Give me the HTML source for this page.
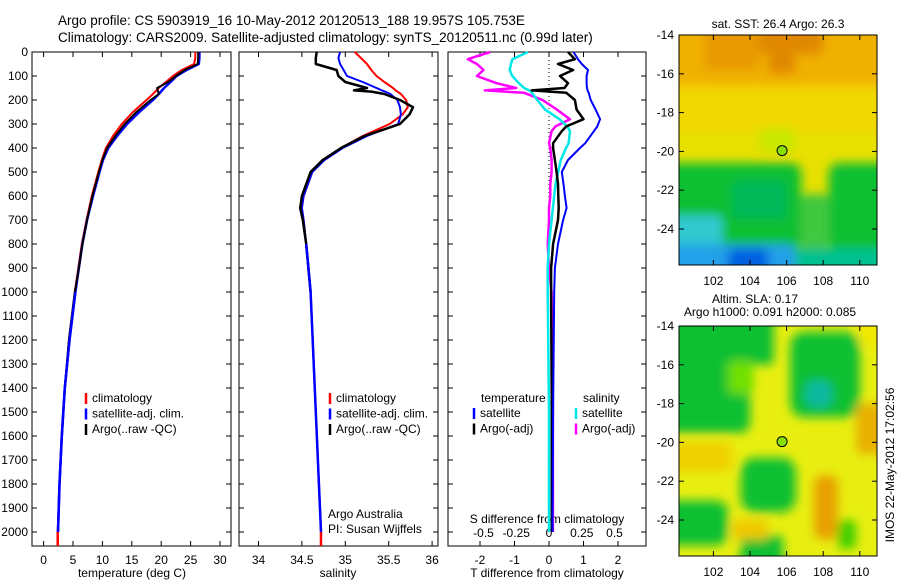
<!DOCTYPE html>
<html><head><meta charset="utf-8"><style>
body{margin:0;background:#fff;}
svg{display:block;font-family:"Liberation Sans",sans-serif;}
</style></head><body>
<svg id="c" width="900" height="580" xmlns="http://www.w3.org/2000/svg">
<defs>
<filter id="bl1" x="-50%" y="-50%" width="200%" height="200%"><feGaussianBlur stdDeviation="5"/></filter>
<clipPath id="cm1"><rect x="679" y="35" width="198" height="230"/></clipPath>
<clipPath id="cm2"><rect x="679" y="326" width="198" height="230"/></clipPath>
</defs>
<text x="58" y="25" font-size="13.5">Argo profile: CS 5903919_16 10-May-2012 20120513_188 19.957S 105.753E</text>
<text x="58" y="42" font-size="13.5">Climatology: CARS2009. Satellite-adjusted climatology: synTS_20120511.nc (0.99d later)</text>
<g id="g"></g>
</svg>
<script>
// ---- data ----
const depths = [0,25,50,75,100,125,150,175,200,250,300,350,400,450,500,600,700,800,900,1000,1200,1400,1600,1800,2000];
const tempClim = [25.8,25.8,25.6,23.5,22.0,20.8,19.6,18.6,17.5,15.2,13.3,11.8,10.6,9.9,9.3,8.2,7.3,6.5,5.9,5.3,4.3,3.6,3.1,2.7,2.4];
const tempSat  = [26.5,26.5,26.4,24.3,22.6,21.6,20.5,19.6,18.6,16.3,14.2,12.5,11.0,10.1,9.5,8.4,7.4,6.6,6.0,5.4,4.4,3.6,3.1,2.7,2.45];
const tempArgo = [26.3,26.3,26.2,24.0,22.5,21.2,19.3,19.6,18.2,15.8,13.8,12.2,10.8,10.0,9.4,8.3,7.4,6.6,6.0,5.3,4.3,3.6,3.1,2.7,2.4];
const salDepths = [0,25,50,75,100,125,150,160,165,175,200,230,260,300,350,400,450,500,600,650,700,800,1000,1500,2000];
const salClim = [35.11,35.18,35.25,35.30,35.36,35.45,35.55,35.58,35.60,35.64,35.70,35.72,35.66,35.51,35.20,34.95,34.75,34.62,34.52,34.50,34.52,34.55,34.60,34.66,34.72];
const salSat  = [34.94,34.92,34.94,34.98,35.02,35.20,35.36,35.42,35.46,35.52,35.60,35.63,35.64,35.61,35.25,34.97,34.76,34.62,34.52,34.50,34.52,34.55,34.60,34.66,34.72];
const salArgo = [34.67,34.66,34.66,34.90,34.92,35.00,35.25,35.10,35.30,35.45,35.63,35.78,35.74,35.63,35.22,34.95,34.74,34.60,34.50,34.48,34.51,34.55,34.60,34.66,34.72];
const diffDepths = [0,30,50,75,100,130,150,160,170,200,240,280,310,330,380,400,450,500,550,600,650,700,800,900,1000,1500,2000];
const tDiffSat  = [0.71,0.84,0.95,1.13,1.09,1.09,1.10,1.12,1.15,1.21,1.35,1.48,1.40,1.30,1.05,0.90,0.55,0.37,0.42,0.46,0.51,0.41,0.26,0.17,0.15,0.12,0.10];
const tDiffArgo = [0.55,0.75,0.26,0.70,0.32,0.55,0.45,-0.50,0.50,0.75,0.80,1.00,0.50,0.37,0.12,0.12,0.17,0.22,0.26,0.27,0.28,0.26,0.12,0.06,0.06,0.08,0.08];
const sDiffSat  = [-0.16,-0.28,-0.29,-0.30,-0.28,-0.23,-0.19,-0.15,-0.13,-0.09,-0.03,0.08,0.14,0.16,0.15,0.13,0.09,0.07,0.05,0.04,0.03,0.02,0.00,-0.01,-0.01,0.00,0.00];
const sDiffArgo = [-0.45,-0.62,-0.55,-0.50,-0.55,-0.40,-0.25,-0.49,-0.19,-0.05,0.06,0.16,0.05,0.02,0.00,0.01,0.02,0.02,0.01,0.01,0.00,0.00,-0.01,0.00,0.02,0.03,0.03];
const depthTicks = [0,100,200,300,400,500,600,700,800,900,1000,1100,1200,1300,1400,1500,1600,1700,1800,1900,2000];
const tempTicks = [0,5,10,15,20,25,30];
const salTicks = [34,34.5,35,35.5,36];
const tdTicks = [-2,-1,0,1,2];
const sdTicks = [-0.5,-0.25,0,0.25,0.5];
const latTicks = [-14,-16,-18,-20,-22,-24];
const lonTicks = [102,104,106,108,110];
const argoLon = 105.753, argoLat = -19.957;

// ---- axes ----
const Y0=52, YB=546;
const yD = d => Y0 + d*0.24;
const xT = t => 43.6 + t*5.88;
const xS = s => 258.5 + (s-34)*86.8;
const xTd = v => 549 + v*34.5;
const xSd = v => 549 + v*131;
const mx = lon => 713.4 + (lon-102)*18.3;
const my1 = lat => 35 + (-14-lat)*19.4;
const my2 = lat => 326 + (-14-lat)*19.4;

const NS="http://www.w3.org/2000/svg";
const G=document.getElementById('g');
function mk(tag, attrs, parent){const e=document.createElementNS(NS,tag);for(const k in attrs)e.setAttribute(k,attrs[k]);(parent||G).appendChild(e);return e;}
function txt(x,y,s,anchor,size){const e=mk('text',{x:x,y:y,'font-size':size||12,'text-anchor':anchor||'start'});e.textContent=s;return e;}

function panel(x0,x1,name){
  const r=mk('rect',{x:x0,y:Y0,width:x1-x0,height:YB-Y0,fill:'none',stroke:'#000','stroke-width':1});
  
  
  depthTicks.forEach(d=>{
    mk('line',{x1:x0,x2:x0+5,y1:yD(d),y2:yD(d),stroke:'#000'});
    mk('line',{x1:x1,x2:x1-5,y1:yD(d),y2:yD(d),stroke:'#000'});
  });
}
function xticks(x0,x1,ticks,f,labY,name){
  ticks.forEach(t=>{
    mk('line',{x1:f(t),x2:f(t),y1:YB,y2:YB-5,stroke:'#000'});
    mk('line',{x1:f(t),x2:f(t),y1:Y0,y2:Y0+5,stroke:'#000'});
    if(labY){const e=txt(f(t),labY,String(t),'middle');
      
      }
  });
}
function line(xs,ds,fx,color,w,name){
  const p=xs.map((v,i)=>(i?'L':'M')+fx(v).toFixed(1)+','+yD(ds[i]).toFixed(1)).join(' ');
  const e=mk('path',{d:p,fill:'none',stroke:color,'stroke-width':w,'stroke-linejoin':'round'});
  
  
}

// panel 1
panel(32,231,'temperature-panel');
depthTicks.forEach(d=>{const e=txt(28,yD(d)+4,String(d),'end');
  
  });
xticks(32,231,tempTicks,xT,564,'temperature');
let e=txt(132,577,'temperature (deg C)','middle');


line(tempClim,depths,xT,'#ff0000',2,'temp-climatology-line');
line(tempSat,depths,xT,'#0000ff',2.5,'temp-satellite-line');
line(tempArgo.slice(0,24),depths.slice(0,24),xT,'#000000',2,'temp-argo-line');
line(tempSat.slice(19),depths.slice(19),xT,'#0000ff',2.5,'temp-satellite-deep');
mk('line',{x1:xT(2.4),x2:xT(2.4),y1:yD(2000),y2:YB,stroke:'#ff0000','stroke-width':2.5});

function legend(x,y,items,name){
  items.forEach((it,i)=>{
    const yy=y+i*15.5;
    mk('line',{x1:x,x2:x,y1:yy-9,y2:yy+2,stroke:it[1],'stroke-width':2.5});
    const t=txt(x+6,yy,it[0],'start');
    
    
  });
}
legend(86,402,[['climatology','#ff0000'],['satellite-adj. clim.','#0000ff'],['Argo(..raw -QC)','#000']],'temp-legend');

// panel 2
panel(239,438,'salinity-panel');
xticks(239,438,salTicks,xS,564,'salinity');
e=txt(338,577,'salinity','middle');


line(salClim,salDepths,xS,'#ff0000',2,'sal-climatology-line');
line(salSat,salDepths,xS,'#0000ff',2,'sal-satellite-line');
line(salArgo.slice(0,23),salDepths.slice(0,23),xS,'#000',2.5,'sal-argo-line');
line(salSat.slice(21),salDepths.slice(21),xS,'#0000ff',2.5,'sal-satellite-deep');
mk('line',{x1:xS(34.72),x2:xS(34.72),y1:yD(2000),y2:YB,stroke:'#ff0000','stroke-width':2.5});
legend(330,402,[['climatology','#ff0000'],['satellite-adj. clim.','#0000ff'],['Argo(..raw -QC)','#000']],'sal-legend');
e=txt(328,518,'Argo Australia');  
e=txt(328,533,'PI: Susan Wijffels');  

// panel 3
panel(448,646,'difference-panel');
xticks(448,646,tdTicks,xTd,564,'t-diff');
e=txt(547,577,'T difference from climatology','middle');


sdTicks.forEach(t=>{const l=txt(xSd(t),537,String(t),'middle');
  
  });
e=txt(547,523,'S difference from climatology','middle');


mk('line',{x1:xTd(0),x2:xTd(0),y1:Y0,y2:yD(800),stroke:'#000','stroke-dasharray':'1,3'});
line(sDiffArgo,diffDepths,xSd,'#ff00ff',2.5,'s-diff-argo-line');
line(sDiffSat,diffDepths,xSd,'#00e8e8',2.5,'s-diff-satellite-line');
line(tDiffArgo,diffDepths,xTd,'#000',2.5,'t-diff-argo-line');
line(tDiffSat,diffDepths,xTd,'#0000ff',2,'t-diff-satellite-line');
e=txt(481,402,'temperature');  
e=txt(583,402,'salinity');  
legend(474,417,[['satellite','#0000ff'],['Argo(-adj)','#000']],'diff-legend-t');
legend(576,417,[['satellite','#00e8e8'],['Argo(-adj)','#ff00ff']],'diff-legend-s');

// maps: blobs are [lonMin, latTop, lonMax, latBottom, colour]
function map(my,top,clip,blobs,bg,name){
  const g=mk('g',{'clip-path':'url(#'+clip+')'});
  
  
  mk('rect',{x:679,y:top,width:198,height:230,fill:bg},g);
  const bg2=mk('g',{filter:'url(#bl1)'},g);
  blobs.forEach(b=>{
    const x1=mx(b[0]),x2=mx(b[2]),y1=my(b[1]),y2=my(b[3]);
    mk('rect',{x:x1,y:y1,width:x2-x1,height:y2-y1,rx:b[5]||6,fill:b[4]},bg2);
  });
  mk('rect',{x:679,y:top,width:198,height:230,fill:'none',stroke:'#000'});
  latTicks.forEach(l=>{
    mk('line',{x1:679,x2:684,y1:my(l),y2:my(l),stroke:'#000'});
    mk('line',{x1:877,x2:872,y1:my(l),y2:my(l),stroke:'#000'});
    const t=txt(674,my(l)+4,String(l),'end');
    
    
  });
  lonTicks.forEach(l=>{
    mk('line',{x1:mx(l),x2:mx(l),y1:top+230,y2:top+225,stroke:'#000'});
    mk('line',{x1:mx(l),x2:mx(l),y1:top,y2:top+5,stroke:'#000'});
    const t=txt(mx(l),top+250,String(l),'middle');
    
    
  });
  const c=mk('circle',{cx:mx(argoLon),cy:my(argoLat),r:5,fill:'#88e000',stroke:'#000'});
  
  
}
map(my1,35,'cm1',[
  [99,-13,113,-16.6,'#f0b000'],[101.5,-13,104.5,-15.8,'#e89a00'],[104.5,-13,108,-15,'#e08800'],[105,-15,106.5,-16,'#e08800'],
  [99,-16.6,113,-19,'#f0d800'],
  [104.5,-18.8,106.5,-20,'#c8e800'],
  [99,-20.6,106.8,-25.2,'#10c030',10],[108.3,-20.6,113,-25.2,'#10c030',10],[106.8,-22.2,108.3,-25,'#40c840'],
  [103,-21.5,106,-23.5,'#00b858'],
  [99,-23.3,102.5,-27,'#30c8d0'],[99,-24.8,106.5,-27,'#20a0e8'],[102.8,-25,105,-27,'#0060e0'],[106.5,-25,113,-27,'#00c090'],
],'#e8e000','sst-map');
let t=txt(778,28,'sat. SST: 26.4  Argo: 26.3','middle');  
map(my2,326,'cm2',[
  [99,-13,104,-19.5,'#10c030',10],[104,-13,105.3,-16,'#10c030'],[102.8,-15.8,104.2,-17.5,'#70e000'],
  [106.2,-14.3,110,-18.7,'#10c030',14],[107,-16.8,108.5,-18.2,'#10b8a0',10],[110,-13,113,-15,'#f0e800'],
  [103.5,-20.8,106.5,-23.6,'#10c030',14],[99,-23,102.8,-25.3,'#10c030',12],[103.5,-24.8,105.8,-27,'#10c030'],
  [107.5,-21.7,108.8,-25,'#e8a000',8],[109.8,-18,113,-20.6,'#e8b000'],[108.8,-24,109.8,-25.5,'#40d000'],
  [99,-20,103,-21.5,'#f0d000'],[103,-24,105,-25,'#f0c800']
],'#e8ee10','sla-map');
t=txt(755,303,'Altim. SLA: 0.17','middle');  
t=txt(770,316,'Argo h1000: 0.091  h2000: 0.085','middle');  
t=mk('text',{x:0,y:0,'font-size':12,'text-anchor':'middle',transform:'translate(894,465) rotate(-90)'});
t.textContent='IMOS 22-May-2012 17:02:56';


</script>
</body></html>
